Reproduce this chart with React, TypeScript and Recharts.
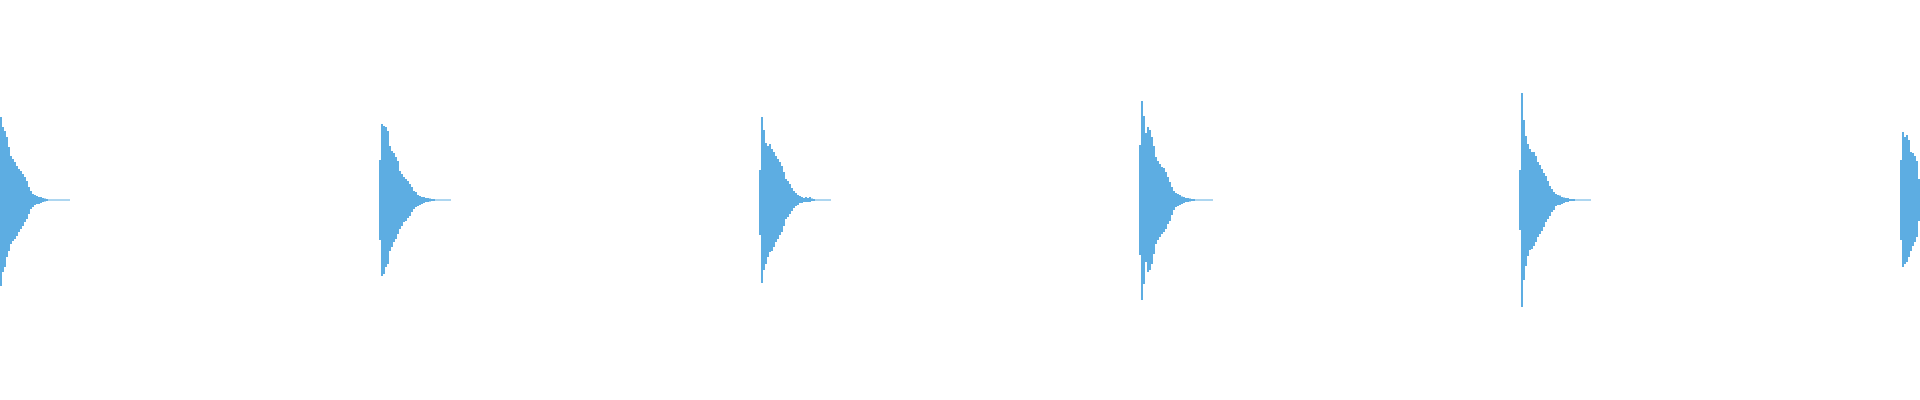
import { Area, AreaChart, XAxis, YAxis } from 'recharts';

// onset time of each hit (x units across the 1920 span)
const hitStarts = [0, 379, 759, 1139, 1519, 1900];
const STEP = 2;

// peak (upper) and trough (lower, as magnitude) envelopes, % of full scale
const hit1Peak = [41.5, 36.5, 34.5, 31.5, 26.5, 22, 20.5, 19, 17, 15.5, 14.5, 13, 11.5, 9.5, 6.5, 4.5, 3, 2.5, 2, 1.5, 1.5, 1, 0.8, 0.5, 0.3, 0.3, 0.3, 0.3, 0.3, 0.3, 0.3, 0.3, 0.3, 0.3, 0.3];
const hit1Trough = [43, 36, 33.5, 28.5, 25.5, 22, 20.5, 19.5, 18, 16, 14.5, 13, 11, 9.5, 7, 4.5, 3.5, 2.5, 2, 2, 1.5, 1, 0.8, 0.5, 0.3, 0.3, 0.3, 0.3, 0.3, 0.3, 0.3, 0.3, 0.3, 0.3, 0.3];

const hit2Peak = [20, 38, 37, 36.5, 34.5, 27, 24.5, 23.5, 21.5, 19.5, 14.5, 13, 11.5, 10.5, 9.5, 8, 6.5, 4.5, 4, 2.5, 2, 1.5, 1.5, 1, 1, 0.8, 0.5, 0.5, 0.3, 0.3, 0.3, 0.3, 0.3, 0.3, 0.3, 0.3];
const hit2Trough = [20, 38, 37, 33.5, 32, 25.5, 23.5, 21, 19.5, 17, 14.5, 13, 11, 10.5, 9, 8, 6, 4.5, 3.5, 3, 2.5, 2, 1.5, 1, 1, 0.8, 0.5, 0.5, 0.3, 0.3, 0.3, 0.3, 0.3, 0.3, 0.3, 0.3];

const hit3Peak = [15, 41.5, 35, 28.5, 27, 28, 25.5, 24, 22, 20.5, 19, 17, 14, 10.5, 9.5, 8, 6, 4.5, 3.5, 2.5, 2, 1.5, 1, 1.5, 1, 1.5, 0.8, 0.5, 0.3, 0.3, 0.3, 0.3, 0.3, 0.3, 0.3, 0.3];
const hit3Trough = [17.5, 41.5, 35, 32, 28.5, 26, 25.5, 23.5, 21, 19.5, 17.5, 16, 13, 9.5, 8.5, 7, 5.5, 4, 3, 2.5, 1.5, 1.5, 1, 1, 1, 1, 0.5, 0.5, 0.3, 0.3, 0.3, 0.3, 0.3, 0.3, 0.3, 0.3];

const hit4Peak = [27.5, 49.5, 42, 33.5, 36.5, 35, 31.5, 27, 21.5, 19.5, 18, 16.5, 16, 14, 11.5, 9, 6.5, 4.5, 3.5, 3, 2.5, 1.8, 1.5, 1, 1, 0.8, 0.5, 0.5, 0.3, 0.3, 0.3, 0.3, 0.3, 0.3, 0.3, 0.3, 0.3];
const hit4Trough = [27.5, 50, 42, 31, 36, 35, 32, 27, 22, 20, 18.5, 17, 16, 14.5, 12, 10.5, 7.5, 5, 3.5, 3, 2.5, 2, 1.5, 1, 1, 0.8, 0.5, 0.5, 0.3, 0.3, 0.3, 0.3, 0.3, 0.3, 0.3, 0.3, 0.3];

const hit5Peak = [15, 53.5, 40, 32, 28, 25.5, 24, 24, 22, 19, 17.5, 15.5, 13.5, 12, 9.5, 7, 5.5, 4, 3, 2.5, 2.2, 1.5, 1.2, 1, 1, 0.5, 0.5, 0.5, 0.3, 0.3, 0.3, 0.3, 0.3, 0.3, 0.3, 0.3];
const hit5Trough = [15, 53.5, 40, 33, 28, 25, 24.5, 23, 21, 18.5, 17, 15.5, 13.5, 11, 9.5, 8, 6, 5, 3, 2.5, 2.5, 2, 1.5, 1, 1, 0.5, 0.5, 0.5, 0.3, 0.3, 0.3, 0.3, 0.3, 0.3, 0.3, 0.3];

const hit6Peak = [20, 34, 31.5, 32.5, 30, 24, 23.5, 22, 19.5, 10.5];
const hit6Trough = [20, 33.5, 32, 31, 28.5, 25.5, 23, 21, 18.5, 10.5];

const peaks = [hit1Peak, hit2Peak, hit3Peak, hit4Peak, hit5Peak, hit6Peak];
const troughs = [hit1Trough, hit2Trough, hit3Trough, hit4Trough, hit5Trough, hit6Trough];

type Pt = { t: number; range: [number, number] | null };

const data: Pt[] = [];
hitStarts.forEach((start, h) => {
  const pk = peaks[h];
  const tr = troughs[h];
  pk.forEach((p, i) => {
    data.push({ t: start + i * STEP, range: [-tr[i], p] });
  });
  const last = pk.length - 1;
  // close the last step, then break the area until the next hit
  data.push({ t: start + pk.length * STEP, range: [-tr[last], pk[last]] });
  data.push({ t: start + pk.length * STEP + 1, range: null });
});

export default function App() {
  return (
    <div style={{ width: 1920, height: 400 }}>
      <style>{'body{margin:0}'}</style>
      <AreaChart width={1920} height={400} data={data} margin={{ top: 0, right: 0, bottom: 0, left: 0 }}>
        <XAxis dataKey="t" type="number" domain={[0, 1920]} allowDataOverflow hide />
        <YAxis type="number" domain={[-100, 100]} allowDataOverflow hide />
        <Area
          dataKey="range"
          type="stepAfter"
          stroke="none"
          fill="#5dade2"
          fillOpacity={1}
          connectNulls={false}
          dot={false}
          activeDot={false}
          isAnimationActive={false}
        />
      </AreaChart>
    </div>
  );
}
